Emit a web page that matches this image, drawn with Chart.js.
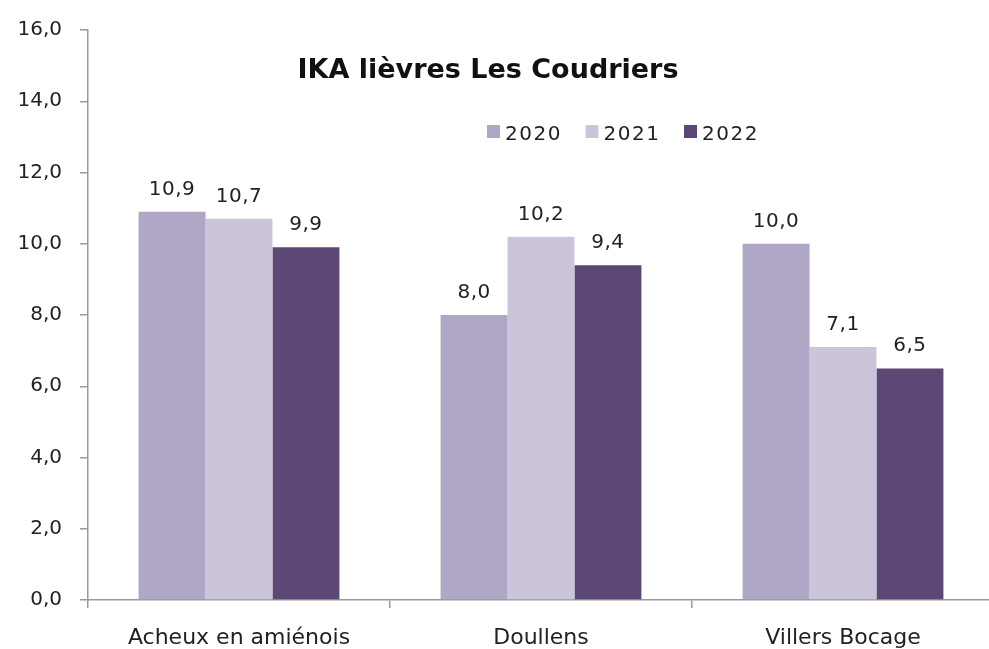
<!DOCTYPE html>
<html>
<head>
<meta charset="utf-8">
<script src="https://cdn.jsdelivr.net/npm/chart.js@4.4.1/dist/chart.umd.min.js"></script>
<style>
  html, body { margin: 0; padding: 0; background: #ffffff; overflow: hidden; }
  #wrap { position: relative; width: 1000px; height: 649px; }
</style>
</head>
<body>
<div id="wrap"><canvas id="c"></canvas></div>
<script>
const chartTitle = "IKA lièvres Les Coudriers";
const categories = ["Acheux en amiénois", "Doullens", "Villers Bocage"];
const seriesNames = ["2020", "2021", "2022"];
const values2020 = [10.9, 8.0, 10.0];
const values2021 = [10.7, 10.2, 7.1];
const values2022 = [9.9, 9.4, 6.5];
const seriesColors = ["#b0a6c6", "#ccc5d9", "#5d4776"];

const FONT = "'DejaVu Sans', sans-serif";
const fmt = v => v.toFixed(1).replace('.', ',');

const overlayPlugin = {
  id: 'overlay',
  afterDatasetsDraw(chart) {
    const ctx = chart.ctx;
    ctx.save();
    // data labels
    ctx.fillStyle = '#222';
    ctx.font = '20px ' + FONT;
    ctx.letterSpacing = '0.5px';
    ctx.textAlign = 'center';
    ctx.textBaseline = 'alphabetic';
    chart.data.datasets.forEach((ds, i) => {
      const meta = chart.getDatasetMeta(i);
      meta.data.forEach((bar, j) => {
        ctx.fillText(fmt(ds.data[j]), bar.x, bar.y - 17);
      });
    });
    // title
    ctx.font = 'bold 27px ' + FONT;
    ctx.letterSpacing = '0px';
    ctx.fillStyle = '#111';
    ctx.textAlign = 'center';
    ctx.fillText(chartTitle, 488, 78);
    // legend
    ctx.font = '20px ' + FONT;
    ctx.letterSpacing = '1.5px';
    ctx.textAlign = 'left';
    let x = 487;
    chart.data.datasets.forEach((ds) => {
      ctx.fillStyle = ds.backgroundColor;
      ctx.fillRect(x, 125, 13, 13);
      ctx.fillStyle = '#222';
      ctx.fillText(ds.label, x + 18, 140);
      x += 98.5;
    });
    ctx.restore();
  }
};

new Chart(document.getElementById('c'), {
  type: 'bar',
  data: {
    labels: categories,
    datasets: [
      { label: seriesNames[0], data: values2020, backgroundColor: seriesColors[0] },
      { label: seriesNames[1], data: values2021, backgroundColor: seriesColors[1] },
      { label: seriesNames[2], data: values2022, backgroundColor: seriesColors[2] }
    ]
  },
  options: {
    responsive: true,
    maintainAspectRatio: false,
    animation: false,
    devicePixelRatio: 1,
    layout: { padding: { top: 25, right: 6, left: 0, bottom: 0 } },
    datasets: { bar: { categoryPercentage: 0.665, barPercentage: 1.0, borderWidth: 0 } },
    plugins: {
      legend: { display: false },
      title: { display: false },
      tooltip: { enabled: false }
    },
    scales: {
      x: {
        grid: { display: true, drawOnChartArea: false, drawTicks: true, tickLength: 8, color: '#999', lineWidth: 1.5, offset: true },
        border: { display: true, color: '#999', width: 1.5 },
        ticks: { color: '#222', font: { family: FONT, size: 22 }, padding: 17, maxRotation: 0 },
        afterFit(scale) { scale.height = 49; }
      },
      y: {
        min: 0, max: 16,
        grid: { display: true, drawOnChartArea: false, drawTicks: true, tickLength: 8, color: '#999', lineWidth: 1.5 },
        border: { display: true, color: '#999', width: 1.5 },
        ticks: {
          stepSize: 2, color: '#222', font: { family: FONT, size: 20 }, padding: 18,
          callback: v => fmt(v)
        },
        afterFit(scale) { scale.width = 88; }
      }
    }
  },
  plugins: [overlayPlugin]
});
</script>
</body>
</html>
